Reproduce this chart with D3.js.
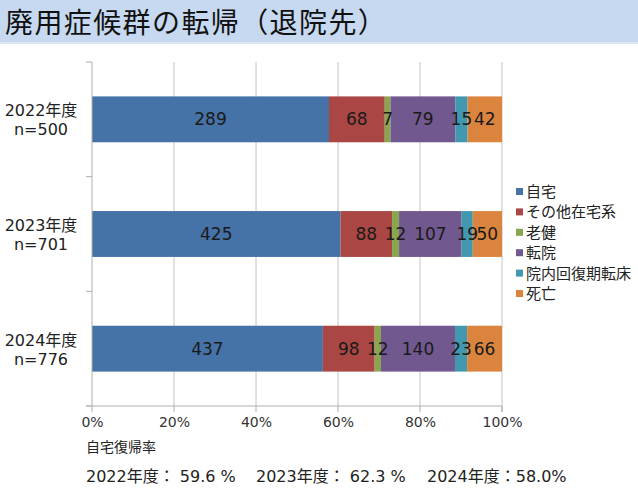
<!DOCTYPE html>
<html>
<head>
<meta charset="utf-8">
<script src="https://cdn.jsdelivr.net/npm/d3@7"></script>
<style>
  body { margin: 0; background: #fff; }
  svg { font-family: "DejaVu Sans", "Noto Sans CJK JP", sans-serif; }
</style>
</head>
<body>
<div id="chart"></div>
<script>
// data
var years = ["2022年度", "2023年度", "2024年度"];
var totals = ["n=500", "n=701", "n=776"];
var seriesNames = ["自宅", "その他在宅系", "老健", "転院", "院内回復期転床", "死亡"];
var seriesColors = ["#4572a7", "#aa4643", "#89a54e", "#71588f", "#4198af", "#db843d"];
var home = [289, 425, 437];
var otherHome = [68, 88, 98];
var rouken = [7, 12, 12];
var transfer = [79, 107, 140];
var inHospital = [15, 19, 23];
var death = [42, 50, 66];
var xTicks = [0, 0.2, 0.4, 0.6, 0.8, 1];
var returnRates = ["2022年度： 59.6 %", "2023年度： 62.3 %", "2024年度：58.0%"];

var W = 638, H = 504;
var svg = d3.select("#chart").append("svg")
    .attr("width", W).attr("height", H);

// title bar
svg.append("rect").attr("x", 0).attr("y", 0).attr("width", W).attr("height", 44)
    .attr("fill", "#c6d9f0");
svg.append("rect").attr("x", 0).attr("y", 42).attr("width", W).attr("height", 2)
    .attr("fill", "#dbe6f4");
svg.append("text").attr("x", 5).attr("y", 33)
    .attr("font-family", "\"Noto Sans CJK JP\", sans-serif")
    .attr("font-size", 28).attr("letter-spacing", 1.4).attr("fill", "#111")
    .text("廃用症候群の転帰（退院先）");

// build rows
var series = [home, otherHome, rouken, transfer, inHospital, death];
var rows = years.map(function (yr, i) {
  var total = d3.sum(series, function (s) { return s[i]; });
  var acc = 0;
  var segs = series.map(function (s, k) {
    var seg = { k: k, v: s[i], x0: acc / total, x1: (acc + s[i]) / total };
    acc += s[i];
    return seg;
  });
  return { year: yr, n: totals[i], segs: segs };
});

var plotL = 92, plotR = 502, plotT = 62, plotB = 406;
var x = d3.scaleLinear().domain([0, 1]).range([plotL, plotR]);
var y = d3.scaleBand().domain(years).range([plotT, plotB]).paddingInner(0.6).paddingOuter(0.3);
var yb = d3.scaleBand().domain(years).range([plotT, plotB]);

// gridlines
svg.append("g").selectAll("line")
  .data(xTicks.slice(1))
  .enter().append("line")
    .attr("x1", function (d) { return x(d); }).attr("x2", function (d) { return x(d); })
    .attr("y1", plotT).attr("y2", plotB)
    .attr("stroke", "#c4c4c4").attr("stroke-width", 1);

// bars
var g = svg.append("g");
rows.forEach(function (r) {
  g.selectAll(null)
    .data(r.segs)
    .enter().append("rect")
      .attr("x", function (d) { return x(d.x0); })
      .attr("width", function (d) { return x(d.x1) - x(d.x0); })
      .attr("y", y(r.year))
      .attr("height", y.bandwidth())
      .attr("fill", function (d) { return seriesColors[d.k]; });
  g.selectAll(null)
    .data(r.segs)
    .enter().append("text")
      .attr("x", function (d) { return (x(d.x0) + x(d.x1)) / 2; })
      .attr("y", y(r.year) + y.bandwidth() / 2 + 6)
      .attr("text-anchor", "middle")
      .attr("font-size", 17).attr("fill", "#1a1a1a")
      .text(function (d) { return d.v; });
});

// y axis
svg.append("line").attr("x1", plotL).attr("x2", plotL).attr("y1", plotT).attr("y2", plotB)
    .attr("stroke", "#b0b0b0");
svg.append("g").selectAll("line")
  .data([plotT].concat(years.map(function (d) { return yb(d) + yb.bandwidth(); })))
  .enter().append("line")
    .attr("x1", plotL - 6).attr("x2", plotL)
    .attr("y1", function (d) { return d; }).attr("y2", function (d) { return d; })
    .attr("stroke", "#b0b0b0");
var cat = svg.append("g").selectAll("text")
  .data(rows).enter().append("text")
    .attr("text-anchor", "middle").attr("font-size", 16).attr("fill", "#222");
cat.append("tspan").attr("x", 41)
    .attr("y", function (d) { return y(d.year) + y.bandwidth() / 2 - 3; })
    .text(function (d) { return d.year; });
cat.append("tspan").attr("x", 41)
    .attr("y", function (d) { return y(d.year) + y.bandwidth() / 2 + 16; })
    .text(function (d) { return d.n; });

// x axis
var xAxis = svg.append("g").attr("transform", "translate(0," + plotB + ")")
    .call(d3.axisBottom(x).tickValues(xTicks).tickFormat(d3.format(".0%")).tickSize(0).tickPadding(11));
xAxis.select(".domain").attr("stroke", "#b0b0b0").attr("d", "M" + (plotL - 6) + ",0H" + plotR + "V6");
xAxis.selectAll("text").attr("font-size", 14).attr("fill", "#333")
    .attr("font-family", "\"DejaVu Sans\", sans-serif");
svg.append("g").selectAll("line")
  .data(xTicks).enter().append("line")
    .attr("x1", function (d) { return x(d); }).attr("x2", function (d) { return x(d); })
    .attr("y1", plotB).attr("y2", plotB + 6)
    .attr("stroke", "#b0b0b0");

// legend
var lg = svg.append("g").selectAll("g")
  .data(seriesNames).enter().append("g")
    .attr("transform", function (d, i) { return "translate(516," + (192 + i * 20.4) + ")"; });
lg.append("rect").attr("x", 0).attr("y", -4).attr("width", 7).attr("height", 7)
    .attr("fill", function (d, i) { return seriesColors[i]; });
lg.append("text").attr("x", 10).attr("y", 5).attr("font-size", 15).attr("fill", "#222")
    .attr("font-family", "\"Noto Sans CJK JP\", sans-serif")
    .text(function (d) { return d; });

// return rate notes
svg.append("text").attr("x", 86).attr("y", 452).attr("font-size", 14).attr("fill", "#222")
    .attr("font-family", "\"Noto Sans CJK JP\", sans-serif")
    .text("自宅復帰率");
svg.append("g").selectAll("text")
  .data(returnRates).enter().append("text")
    .attr("x", function (d, i) { return [86, 256, 427][i]; })
    .attr("y", 482).attr("font-size", 16).attr("fill", "#222")
    .text(function (d) { return d; });
</script>
</body>
</html>
